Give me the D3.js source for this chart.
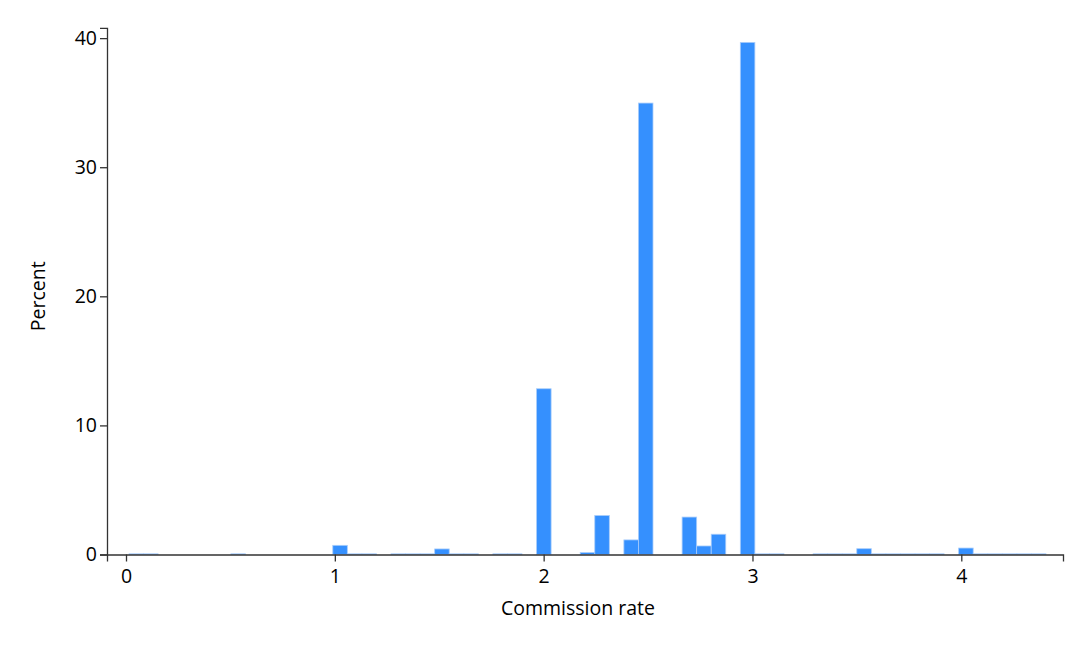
<!DOCTYPE html>
<html>
<head>
<meta charset="utf-8">
<script src="https://cdn.jsdelivr.net/npm/d3@7"></script>
<style>
  html, body { margin: 0; padding: 0; background: #fff; }
  svg { display: block; }
  text { font-family: "Open Sans", "Noto Sans", sans-serif; fill: #000; }
</style>
</head>
<body>
<svg id="chart" width="1084" height="652"></svg>
<script>
// Histogram definition (bin lower edge of first bin and bin width)
const binStart = 0.0144;
const binWidth = 0.0697;
// Percent in each of the 63 bins
const percent = [
  0.05, 0.05, 0, 0, 0, 0, 0, 0.05, 0, 0,
  0, 0, 0, 0, 0.71, 0.05, 0.05, 0, 0.05, 0.05,
  0.05, 0.43, 0.05, 0.05, 0, 0.05, 0.05, 0, 12.84, 0,
  0, 0.15, 3.02, 0, 1.13, 34.97, 0, 0, 2.9, 0.66,
  1.57, 0, 39.67, 0.05, 0.05, 0, 0, 0.05, 0.05, 0.05,
  0.45, 0.05, 0.05, 0.05, 0.05, 0.05, 0, 0.5, 0.05, 0.05,
  0.05, 0.05, 0.05
];
const xTicks = [0, 1, 2, 3, 4];
const yTicks = [0, 10, 20, 30, 40];
const xTitle = "Commission rate";
const yTitle = "Percent";

const bins = percent.map((v, i) => ({ x0: binStart + i * binWidth, x1: binStart + (i + 1) * binWidth, v }));

const svg = d3.select("#chart");
const x = d3.scaleLinear().domain([-0.091, 4.487]).range([107, 1063]);
const y = d3.scaleLinear().domain([0, 40.8]).range([554.5, 27.8]);

// bars
svg.append("g").selectAll("rect")
  .data(bins.filter(d => d.v > 0))
  .join("rect")
  .attr("x", d => x(d.x0))
  .attr("width", d => x(d.x1) - x(d.x0))
  .attr("y", d => y(d.v))
  .attr("height", d => y(0) - y(d.v))
  .attr("fill", "#3590fe")
  .attr("stroke", "#a9cdfb")
  .attr("stroke-width", 0.8);

// x axis
const xAxis = svg.append("g")
  .attr("transform", `translate(0,${y(0)})`)
  .call(d3.axisBottom(x).tickValues(xTicks).tickFormat(d3.format("d")).tickSizeOuter(0).tickSize(7).tickPadding(8));
// y axis
const yAxis = svg.append("g")
  .attr("transform", `translate(${x.range()[0]},0)`)
  .call(d3.axisLeft(y).tickValues(yTicks).tickFormat(d3.format("d")).tickSizeOuter(0).tickSize(7).tickPadding(3));

[xAxis, yAxis].forEach(g => {
  g.select(".domain").attr("stroke", "#333").attr("stroke-width", 1.3);
  g.selectAll(".tick line").attr("stroke", "#333").attr("stroke-width", 1.3);
  g.selectAll(".tick text").attr("font-size", 19.5).attr("fill", "#000")
    .attr("font-family", '"Open Sans", "Noto Sans", sans-serif');
});

// titles
svg.append("text")
  .attr("x", 578).attr("y", 615)
  .attr("text-anchor", "middle")
  .attr("font-size", 19.5)
  .text(xTitle);
svg.append("text")
  .attr("transform", `translate(45,${(y(0) + y(40)) / 2}) rotate(-90)`)
  .attr("text-anchor", "middle")
  .attr("font-size", 19.5)
  .text(yTitle);
</script>
</body>
</html>
